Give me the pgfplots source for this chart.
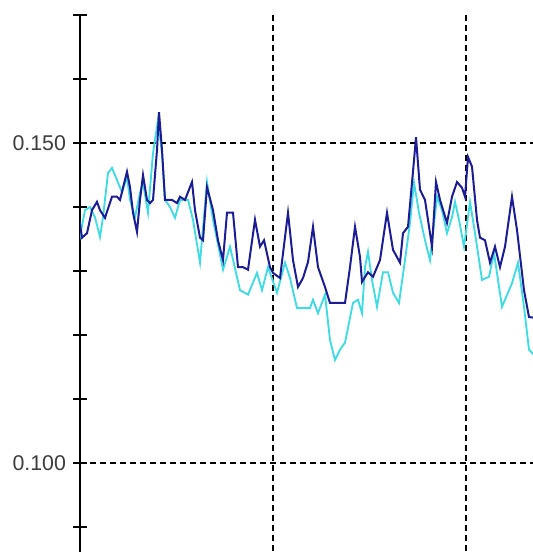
\documentclass[border=0pt]{standalone}
\usepackage{pgfplots}
\pgfplotsset{compat=1.18}
\usepackage{fontspec}
\setmainfont{Liberation Sans}
\definecolor{navyline}{RGB}{28,28,150}
\definecolor{cyanline}{RGB}{64,220,228}
\definecolor{labelgray}{RGB}{60,60,60}
\begin{document}
\begin{tikzpicture}
\begin{axis}[
  scale only axis,
  width=390pt, height=432pt,
  xmin=80, xmax=600,
  ymin=0.080, ymax=0.170,
  axis lines=left,
  axis line style={-, black, line width=1.4pt},
  xtick={273,466}, xticklabels={},
  xtick style={draw=none},
  ytick={0.100,0.150},
  minor ytick={0.090,0.110,0.120,0.130,0.140,0.160,0.170},
  tick align=center,
  major tick length=10pt, minor tick length=10pt,
  ytick style={black, line width=1.2pt},
  minor tick style={black, line width=1.2pt},
  xmajorgrids, ymajorgrids,
  major grid style={black, line width=1.1pt, dash pattern=on 4.5pt off 3pt},
  yticklabel style={font=\fontsize{16}{19}\selectfont, text=labelgray, xshift=-2pt, /pgf/number format/fixed, /pgf/number format/fixed zerofill, /pgf/number format/precision=3, /pgf/number format/assume math mode=true},
  clip=true,
]
\addplot[cyanline, line width=1.4pt] coordinates {
(78,0.1338) (85,0.1395) (90,0.1400) (95,0.1384) (100,0.1353) (103,0.1384)
(108,0.1453) (112,0.1461) (117,0.1442) (122,0.1423) (127,0.1447) (130,0.1411)
(135,0.1384) (140,0.1422) (143,0.1438) (148,0.1391) (153,0.1484) (158,0.1536)
(162,0.1484) (165,0.1411) (170,0.1400) (175,0.1383) (180,0.1411) (188,0.1411)
(193,0.1380) (200,0.1313) (207,0.1439) (213,0.1380) (223,0.1302) (230,0.1338)
(240,0.1270) (248,0.1263) (257,0.1297) (262,0.1270) (268,0.1306) (277,0.1266)
(285,0.1313) (290,0.1289) (297,0.1242) (310,0.1242) (313,0.1255) (318,0.1234)
(325,0.1263) (330,0.1192) (335,0.1161) (340,0.1177) (345,0.1188) (353,0.1250)
(358,0.1255) (362,0.1234) (365,0.1306) (368,0.1330) (372,0.1286) (377,0.1244)
(383,0.1298) (388,0.1298) (393,0.1266) (399,0.1250) (405,0.1317) (410,0.1375)
(414,0.1438) (419,0.1391) (425,0.1348) (430,0.1317) (437,0.1416) (442,0.1395)
(447,0.1359) (452,0.1384) (455,0.1408) (459,0.1380) (464,0.1338) (470,0.1408)
(475,0.1359) (482,0.1286) (489,0.1291) (494,0.1328) (502,0.1244) (512,0.1281)
(518,0.1313) (524,0.1244) (529,0.1177) (534,0.1169)
};
\addplot[navyline, line width=1.5pt] coordinates {
(79,0.1384) (82,0.1352) (87,0.1359) (92,0.1395) (97,0.1408) (100,0.1395)
(105,0.1383) (112,0.1416) (117,0.1416) (120,0.1411) (127,0.1455) (130,0.1431)
(133,0.1391) (137,0.1361) (140,0.1411) (143,0.1450) (147,0.1411) (150,0.1406)
(153,0.1411) (157,0.1489) (159,0.1548) (162,0.1489) (165,0.1411) (172,0.1411)
(177,0.1406) (180,0.1416) (185,0.1411) (192,0.1439) (195,0.1395) (200,0.1352)
(203,0.1348) (207,0.1431) (213,0.1395) (218,0.1348) (223,0.1317) (227,0.1391)
(233,0.1391) (238,0.1306) (243,0.1306) (248,0.1302) (255,0.1380) (260,0.1338)
(264,0.1348) (270,0.1306) (273,0.1297) (280,0.1289) (288,0.1391) (293,0.1317)
(298,0.1275) (303,0.1289) (308,0.1314) (313,0.1369) (318,0.1306) (325,0.1275)
(330,0.1250) (345,0.1250) (350,0.1306) (355,0.1369) (360,0.1322) (362,0.1283)
(368,0.1298) (373,0.1291) (380,0.1317) (387,0.1391) (393,0.1333) (400,0.1313)
(403,0.1359) (408,0.1369) (412,0.1438) (414,0.1473) (416,0.1509) (420,0.1427)
(425,0.1411) (430,0.1359) (432,0.1338) (436,0.1439) (440,0.1411) (447,0.1375)
(452,0.1416) (457,0.1439) (462,0.1430) (465,0.1416) (468,0.1478) (472,0.1463)
(477,0.1380) (480,0.1352) (485,0.1348) (490,0.1313) (495,0.1338) (500,0.1306)
(505,0.1338) (512,0.1416) (517,0.1364) (524,0.1270) (529,0.1228) (534,0.1227)
};
\coordinate (BL) at (axis cs:0,0.08609);
\coordinate (TR) at (axis cs:532,0.17234);
\end{axis}
\pgfresetboundingbox
\path[use as bounding box] (BL) rectangle (TR);
\end{tikzpicture}
\end{document}
